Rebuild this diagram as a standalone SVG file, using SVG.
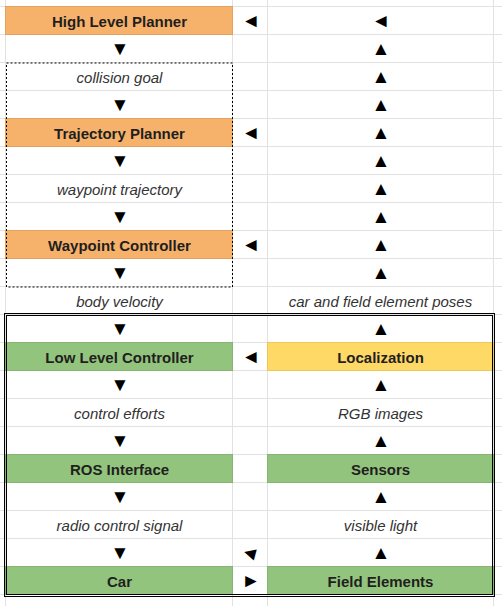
<svg xmlns="http://www.w3.org/2000/svg" width="502" height="606" viewBox="0 0 502 606">
<style>
.grid line{stroke:#e2e2e2;stroke-width:1}
.t{font-family:"Liberation Sans",Arial,sans-serif;font-size:15px;text-anchor:middle}
.b{font-weight:bold;fill:#1f1f1f}
.i{font-style:italic;fill:#333333}
.a{fill:#000000;font-size:19px}
.or{fill:#f6b26b;stroke:#e3a35f}
.gr{fill:#93c47d;stroke:#86b571}
.ye{fill:#ffd966;stroke:#ecc85c}
</style>
<rect width="502" height="606" fill="#ffffff"/>
<g class="grid">
<line x1="5.5" y1="0" x2="5.5" y2="606"/>
<line x1="232.5" y1="0" x2="232.5" y2="606"/>
<line x1="267.5" y1="0" x2="267.5" y2="606"/>
<line x1="493.5" y1="0" x2="493.5" y2="606"/>
<line x1="0" y1="6.5" x2="502" y2="6.5"/>
<line x1="0" y1="34.5" x2="502" y2="34.5"/>
<line x1="0" y1="62.5" x2="502" y2="62.5"/>
<line x1="0" y1="90.5" x2="502" y2="90.5"/>
<line x1="0" y1="118.5" x2="502" y2="118.5"/>
<line x1="0" y1="146.5" x2="502" y2="146.5"/>
<line x1="0" y1="174.5" x2="502" y2="174.5"/>
<line x1="0" y1="202.5" x2="502" y2="202.5"/>
<line x1="0" y1="230.5" x2="502" y2="230.5"/>
<line x1="0" y1="258.5" x2="502" y2="258.5"/>
<line x1="0" y1="286.5" x2="502" y2="286.5"/>
<line x1="0" y1="314.5" x2="502" y2="314.5"/>
<line x1="0" y1="342.5" x2="502" y2="342.5"/>
<line x1="0" y1="370.5" x2="502" y2="370.5"/>
<line x1="0" y1="398.5" x2="502" y2="398.5"/>
<line x1="0" y1="426.5" x2="502" y2="426.5"/>
<line x1="0" y1="454.5" x2="502" y2="454.5"/>
<line x1="0" y1="482.5" x2="502" y2="482.5"/>
<line x1="0" y1="510.5" x2="502" y2="510.5"/>
<line x1="0" y1="538.5" x2="502" y2="538.5"/>
<line x1="0" y1="566.5" x2="502" y2="566.5"/>
<line x1="0" y1="594.5" x2="502" y2="594.5"/>
</g>
<g id="high-level-planner"><rect class="or" x="5.5" y="6.5" width="227" height="28"/><text class="t b" x="119.5" y="27">High Level Planner</text></g>
<g id="trajectory-planner"><rect class="or" x="5.5" y="118.5" width="227" height="28"/><text class="t b" x="119.5" y="139">Trajectory Planner</text></g>
<g id="waypoint-controller"><rect class="or" x="5.5" y="230.5" width="227" height="28"/><text class="t b" x="119.5" y="251">Waypoint Controller</text></g>
<g id="low-level-controller"><rect class="gr" x="5.5" y="342.5" width="227" height="28"/><text class="t b" x="119.5" y="363">Low Level Controller</text></g>
<g id="localization"><rect class="ye" x="267.5" y="342.5" width="226" height="28"/><text class="t b" x="380.5" y="363">Localization</text></g>
<g id="ros-interface"><rect class="gr" x="5.5" y="454.5" width="227" height="28"/><text class="t b" x="119.5" y="475">ROS Interface</text></g>
<g id="sensors"><rect class="gr" x="267.5" y="454.5" width="226" height="28"/><text class="t b" x="380.5" y="475">Sensors</text></g>
<g id="car"><rect class="gr" x="5.5" y="566.5" width="227" height="28"/><text class="t b" x="119.5" y="587">Car</text></g>
<g id="field-elements"><rect class="gr" x="267.5" y="566.5" width="226" height="28"/><text class="t b" x="380.5" y="587">Field Elements</text></g>
<g id="groups" fill="none">
<rect x="6.5" y="63" width="226" height="224" stroke="#000" stroke-width="1" stroke-dasharray="2 2"/>
<rect x="4.5" y="313.5" width="490" height="283" stroke="#000" stroke-width="1"/>
<rect x="6.5" y="315.5" width="486" height="279" stroke="#000" stroke-width="1"/>
</g>
<g id="connectors">
<text class="t a" x="251" y="27">◄</text>
<text class="t a" x="381" y="27">◄</text>
<text class="t a" x="120" y="55">▼</text>
<text class="t i" x="119.5" y="83">collision goal</text>
<text class="t a" x="120" y="111">▼</text>
<text class="t a" x="251" y="139">◄</text>
<text class="t a" x="120" y="167">▼</text>
<text class="t i" x="119.5" y="195">waypoint trajectory</text>
<text class="t a" x="120" y="223">▼</text>
<text class="t a" x="251" y="251">◄</text>
<text class="t a" x="120" y="279">▼</text>
<text class="t i" x="119.5" y="307">body velocity</text>
<text class="t a" x="120" y="335">▼</text>
<text class="t a" x="251" y="363">◄</text>
<text class="t a" x="120" y="391">▼</text>
<text class="t i" x="119.5" y="419">control efforts</text>
<text class="t a" x="120" y="447">▼</text>
<text class="t a" x="120" y="503">▼</text>
<text class="t i" x="119.5" y="531">radio control signal</text>
<text class="t a" x="120" y="559">▼</text>
<text class="t a" x="250" y="559" transform="rotate(15 250 553)">◄</text>
<text class="t a" x="251" y="587">►</text>
<text class="t a" x="381" y="55">▲</text>
<text class="t a" x="381" y="83">▲</text>
<text class="t a" x="381" y="111">▲</text>
<text class="t a" x="381" y="139">▲</text>
<text class="t a" x="381" y="167">▲</text>
<text class="t a" x="381" y="195">▲</text>
<text class="t a" x="381" y="223">▲</text>
<text class="t a" x="381" y="251">▲</text>
<text class="t a" x="381" y="279">▲</text>
<text class="t i" x="380.5" y="307">car and field element poses</text>
<text class="t a" x="381" y="335">▲</text>
<text class="t a" x="381" y="391">▲</text>
<text class="t i" x="380.5" y="419">RGB images</text>
<text class="t a" x="381" y="447">▲</text>
<text class="t a" x="381" y="503">▲</text>
<text class="t i" x="380.5" y="531">visible light</text>
<text class="t a" x="381" y="559">▲</text>
</g>
</svg>
